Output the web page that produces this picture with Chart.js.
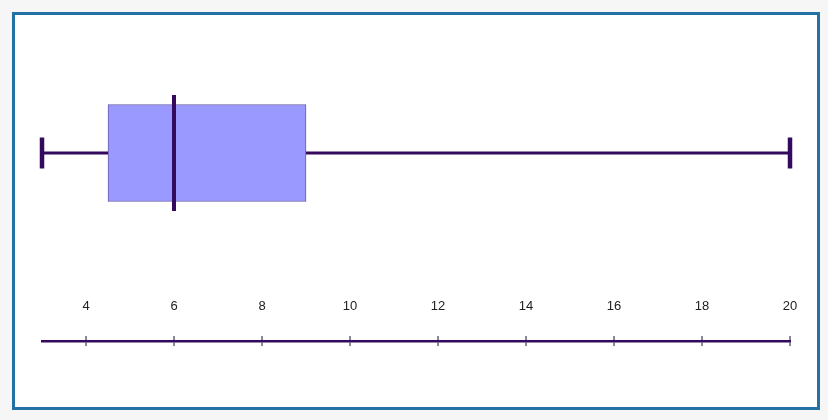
<!DOCTYPE html>
<html>
<head>
<meta charset="utf-8">
<script src="https://cdn.jsdelivr.net/npm/chart.js@4.4.0/dist/chart.umd.min.js"></script>
<style>
    html, body { margin: 0; padding: 0; background: #f6f6f6; }
    #frame {
        position: absolute; left: 12px; top: 12px;
        width: 802px; height: 392px;
        border: 3px solid #2471a3; background: #fff;
    }
    #wrap { position: absolute; left: 0; top: 0; width: 828px; height: 420px; }
</style>
</head>
<body>
<div id="frame"></div>
<div id="wrap"><canvas id="boxChart" width="828" height="420"></canvas></div>
<script>
// Five-number summary: min, q1, median, q3, max
const summaryLabels = ['min', 'q1', 'median', 'q3', 'max'];
const summaryValues = [3, 4.5, 6, 9, 20];
// Axis
const axisRange = [3, 20];
const tickValues = [4, 6, 8, 10, 12, 14, 16, 18, 20];

const val = name => summaryValues[summaryLabels.indexOf(name)];

const darkPurple = '#330a5e';
const tickGrey = '#8a8798';

function setTicks(scale) {
    scale.ticks = tickValues.map(v => ({ value: v }));
}

const axisBase = {
    type: 'linear',
    position: 'bottom',
    offset: false,
    min: axisRange[0],
    max: axisRange[1],
    afterBuildTicks: setTicks,
    afterFit: scale => { scale.height = 5; },
    grid: {
        drawOnChartArea: false,
        drawTicks: true,
        tickLength: 5,
        color: tickGrey,
        lineWidth: 2
    }
};

new Chart(document.getElementById('boxChart').getContext('2d'), {
    type: 'bar',
    data: {
        datasets: [
            {
                // box q1 -> q3
                type: 'bar',
                data: [{ x: [val('q1'), val('q3')], y: 0 }],
                backgroundColor: '#9999ff',
                borderColor: '#6a5aa6',
                borderWidth: 1,
                borderSkipped: false,
                barThickness: 97,
                order: 3
            },
            {
                // lower whisker
                type: 'line',
                data: [{ x: val('min'), y: 0 }, { x: val('q1'), y: 0 }],
                borderColor: darkPurple,
                borderWidth: 3,
                pointRadius: 0,
                clip: false,
                order: 2
            },
            {
                // upper whisker
                type: 'line',
                data: [{ x: val('q3'), y: 0 }, { x: val('max'), y: 0 }],
                borderColor: darkPurple,
                borderWidth: 3,
                pointRadius: 0,
                clip: false,
                order: 2
            },
            {
                // whisker caps
                type: 'line',
                showLine: false,
                data: [{ x: val('min'), y: 0 }, { x: val('max'), y: 0 }],
                pointStyle: 'line',
                pointRotation: 90,
                pointRadius: 15.5,
                pointBorderWidth: 4.5,
                pointBorderColor: darkPurple,
                clip: false,
                order: 1
            },
            {
                // median
                type: 'line',
                showLine: false,
                data: [{ x: val('median'), y: 0 }],
                pointStyle: 'line',
                pointRotation: 90,
                pointRadius: 58,
                pointBorderWidth: 4,
                pointBorderColor: darkPurple,
                clip: false,
                order: 0
            }
        ]
    },
    options: {
        indexAxis: 'y',
        responsive: false,
        animation: false,
        layout: { autoPadding: false, padding: { left: 42, right: 38, top: 92, bottom: 74 } },
        plugins: {
            legend: { display: false },
            tooltip: { enabled: false }
        },
        scales: {
            y: { type: 'linear', min: -3, max: 1, offset: false, display: false },
            x: {
                ...axisBase,
                weight: 0,
                border: { display: false },
                ticks: {
                    mirror: true,
                    padding: 22,
                    color: '#222',
                    font: { family: 'Arial, "Liberation Sans", sans-serif', size: 13 }
                }
            },
            x2: {
                ...axisBase,
                weight: 1,
                border: { display: true, color: darkPurple, width: 2.5 },
                ticks: { display: false }
            }
        }
    }
});
</script>
</body>
</html>
